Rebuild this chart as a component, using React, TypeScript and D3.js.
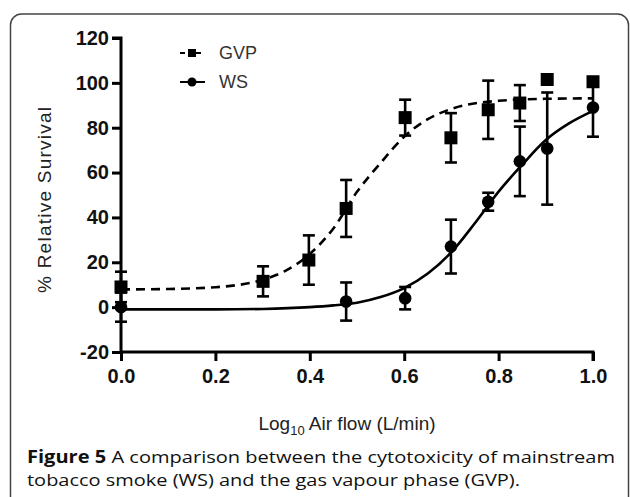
import React, { useEffect, useRef } from 'react';
import * as d3 from 'd3';

// measured points (log10 air flow vs % relative survival, mean +/- error)
const gvpX: number[] = [0, 0.301, 0.398, 0.477, 0.602, 0.699, 0.778, 0.845, 0.903, 1.0];
const gvpY: number[] = [9, 11.5, 21, 44, 84.5, 75.5, 88, 91, 101.5, 100.5];
const gvpErr: number[] = [6.8, 6.7, 11, 12.7, 8, 11, 13, 8, 0, 0];

const wsX: number[] = [0, 0.477, 0.602, 0.699, 0.778, 0.845, 0.903, 1.0];
const wsY: number[] = [0, 2.5, 4, 27, 47, 65, 70.7, 89];
const wsErr: number[] = [6.5, 8.5, 5, 12, 4, 15.5, 25, 13];

// fitted curves
const gvpFitX: number[] = [0, 0.1, 0.2, 0.3, 0.35, 0.4, 0.45, 0.5, 0.55, 0.6, 0.65, 0.7, 0.8, 0.9, 1.0];
const gvpFitY: number[] = [7.9, 8.1, 8.9, 12.2, 16.4, 23.7, 35.1, 51.4, 64.3, 76, 83.8, 88.4, 92, 92.9, 93.1];
const wsFitX: number[] = [0, 0.1, 0.2, 0.3, 0.4, 0.45, 0.5, 0.55, 0.6, 0.65, 0.7, 0.75, 0.8, 0.85, 0.9, 0.95, 1.0];
const wsFitY: number[] = [-1, -1, -1, -0.8, 0, 0.8, 2, 4.5, 8.5, 15, 24.5, 37.5, 51.5, 63.5, 74.5, 82, 87.5];

const xTicks: number[] = [0, 0.2, 0.4, 0.6, 0.8, 1.0];
const yTicks: number[] = [-20, 0, 20, 40, 60, 80, 100, 120];
const legendLabels: string[] = ['GVP', 'WS'];

const App: React.FC = () => {
    const ref = useRef<SVGSVGElement | null>(null);

    useEffect(() => {
        const el = ref.current;
        if (!el) return;
        const svg = d3.select(el);
        svg.selectAll('*').remove();

        const x = d3.scaleLinear().domain([0, 1]).range([121, 593]);
        const y = d3.scaleLinear().domain([-20, 120]).range([352, 38]);

        // frame
        svg.append('rect')
            .attr('x', 10.5).attr('y', 14)
            .attr('width', 618).attr('height', 500)
            .attr('rx', 11)
            .attr('fill', 'white')
            .attr('stroke', '#444')
            .attr('stroke-width', 1.5);

        const tickFont = '"Liberation Sans", Arial, sans-serif';

        // y axis
        const yAxis = d3.axisLeft(y).tickValues(yTicks).tickSize(9).tickPadding(3)
            .tickFormat((d) => String(d));
        const gy = svg.append('g').attr('transform', `translate(${x(0)},0)`).call(yAxis);
        gy.select('.domain').attr('stroke', '#000').attr('stroke-width', 3).attr('d', `M-9,${y(120)}H0V${y(-20)}`);
        gy.selectAll('.tick line').attr('stroke', '#000').attr('stroke-width', 3);
        gy.selectAll('.tick text')
            .attr('font-family', tickFont).attr('font-weight', 'bold').attr('font-size', 20)
            .attr('fill', '#111');

        // x axis
        const xAxis = d3.axisBottom(x).tickValues(xTicks).tickSize(9).tickPadding(8).tickFormat(d3.format('.1f'));
        const gx = svg.append('g').attr('transform', `translate(0,${y(-20)})`).call(xAxis);
        gx.select('.domain').attr('stroke', '#000').attr('stroke-width', 3).attr('d', `M${x(0)},0H${x(1)}V9`);
        gx.selectAll('.tick line').attr('stroke', '#000').attr('stroke-width', 3);
        gx.selectAll('.tick text')
            .attr('font-family', tickFont).attr('font-weight', 'bold').attr('font-size', 20)
            .attr('fill', '#111');
        svg.selectAll('.domain').attr('fill', 'none');

        // axis titles
        svg.append('text')
            .attr('transform', `translate(51,200) rotate(-90)`)
            .attr('text-anchor', 'middle')
            .attr('font-family', '"Liberation Sans", Arial, sans-serif')
            .attr('font-size', 19)
            .attr('fill', '#222')
            .attr('textLength', 186)
            .attr('lengthAdjust', 'spacing')
            .text('% Relative Survival');

        const xt = svg.append('text')
            .attr('x', 347).attr('y', 430)
            .attr('text-anchor', 'middle')
            .attr('font-family', '"Liberation Sans", Arial, sans-serif')
            .attr('font-size', 19)
            .attr('fill', '#222');
        xt.append('tspan').text('Log');
        xt.append('tspan').attr('font-size', 13).attr('dy', 5).text('10');
        xt.append('tspan').attr('dy', -5).text(' Air flow (L/min)');

        // fitted curves
        const line = d3.line<[number, number]>()
            .x((d) => x(d[0]))
            .y((d) => y(d[1]))
            .curve(d3.curveMonotoneX);

        svg.append('path')
            .datum(gvpFitX.map((v, i) => [v, gvpFitY[i]] as [number, number]))
            .attr('d', line)
            .attr('fill', 'none')
            .attr('stroke', '#000')
            .attr('stroke-width', 2.6)
            .attr('stroke-dasharray', '9,6');

        svg.append('path')
            .datum(wsFitX.map((v, i) => [v, wsFitY[i]] as [number, number]))
            .attr('d', line)
            .attr('fill', 'none')
            .attr('stroke', '#000')
            .attr('stroke-width', 2.6);

        // error bars
        const errBars = (xs: number[], ys: number[], es: number[]) => {
            const g = svg.append('g').attr('stroke', '#000').attr('stroke-width', 2.6);
            xs.forEach((v, i) => {
                if (!es[i]) return;
                const cx = x(v);
                const top = y(ys[i] + es[i]);
                const bot = y(ys[i] - es[i]);
                g.append('line').attr('x1', cx).attr('x2', cx).attr('y1', top).attr('y2', bot);
                g.append('line').attr('x1', cx - 6).attr('x2', cx + 6).attr('y1', top).attr('y2', top);
                g.append('line').attr('x1', cx - 6).attr('x2', cx + 6).attr('y1', bot).attr('y2', bot);
            });
        };
        errBars(wsX, wsY, wsErr);
        errBars(gvpX, gvpY, gvpErr);

        // markers
        svg.append('g')
            .selectAll('circle')
            .data(wsX)
            .enter()
            .append('circle')
            .attr('cx', (d) => x(d))
            .attr('cy', (_, i) => y(wsY[i]))
            .attr('r', 6.3)
            .attr('fill', '#000');

        svg.append('g')
            .selectAll('rect')
            .data(gvpX)
            .enter()
            .append('rect')
            .attr('x', (d) => x(d) - 6.5)
            .attr('y', (_, i) => y(gvpY[i]) - 6.5)
            .attr('width', 13)
            .attr('height', 13)
            .attr('fill', '#000');

        // legend
        const lg = svg.append('g');
        lg.append('line').attr('x1', 180).attr('x2', 204).attr('y1', 53).attr('y2', 53)
            .attr('stroke', '#000').attr('stroke-width', 2).attr('stroke-dasharray', '5,3');
        lg.append('rect').attr('x', 188).attr('y', 49).attr('width', 8).attr('height', 8).attr('fill', '#000');
        lg.append('line').attr('x1', 180).attr('x2', 205).attr('y1', 82).attr('y2', 82)
            .attr('stroke', '#000').attr('stroke-width', 2);
        lg.append('circle').attr('cx', 192).attr('cy', 82).attr('r', 4.5).attr('fill', '#000');
        lg.selectAll('text')
            .data(legendLabels)
            .enter()
            .append('text')
            .attr('x', 219)
            .attr('y', (_, i) => 53 + i * 29)
            .attr('dy', '0.36em')
            .attr('font-family', '"Liberation Sans", Arial, sans-serif')
            .attr('font-size', 18)
            .attr('fill', '#333')
            .text((d) => d);

        // caption
        const capFont = '"Open Sans", "Noto Sans", sans-serif';
        const c1 = svg.append('text')
            .attr('x', 27).attr('y', 463)
            .attr('font-family', capFont).attr('font-size', 17).attr('fill', '#111')
            .attr('textLength', 588).attr('lengthAdjust', 'spacingAndGlyphs');
        c1.append('tspan').attr('font-weight', 'bold').text('Figure 5');
        c1.append('tspan').text(' A comparison between the cytotoxicity of mainstream');
        svg.append('text')
            .attr('x', 27).attr('y', 486)
            .attr('font-family', capFont).attr('font-size', 17).attr('fill', '#111')
            .attr('textLength', 493).attr('lengthAdjust', 'spacingAndGlyphs')
            .text('tobacco smoke (WS) and the gas vapour phase (GVP).');
    }, []);

    return (
        <svg
            ref={ref}
            width={630}
            height={497}
            style={{ position: 'absolute', left: 0, top: 0, background: '#fff' }}
        />
    );
};

export default App;
